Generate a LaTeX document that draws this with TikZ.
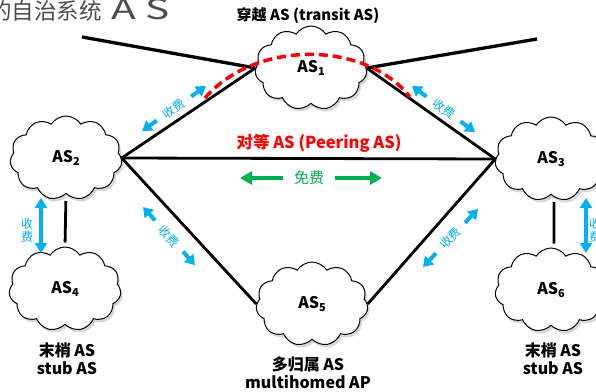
\documentclass[tikz,border=0pt]{standalone}
\usepackage{fontspec}
\setmainfont{Noto Sans CJK SC}
\usetikzlibrary{shapes.symbols,shadows,arrows.meta}
\definecolor{myblue}{HTML}{00B0F0}
\definecolor{mygreen}{HTML}{00B050}
\definecolor{myred}{HTML}{FF0000}
\newcommand\asl[1]{AS\raisebox{-0.35ex}{\fontsize{11}{11}\selectfont #1}}
\begin{document}
\begin{tikzpicture}[x=1pt,y=-1pt,
  ascloud/.style={cloud, cloud puffs=11, cloud puff arc=115, aspect=1.45, draw, line width=1pt,
    fill=white, minimum width=112pt, minimum height=84pt, inner sep=0pt,
    drop shadow={shadow xshift=2pt, shadow yshift=-3pt, fill=black!30},
    font=\bfseries\fontsize{16}{18}\selectfont},
  bline/.style={line width=2.8pt, black},
  rdash/.style={line width=3.5pt, myred, dash pattern=on 9pt off 5pt},
  barrow/.style={myblue, line width=4pt, -{Triangle[length=9.5pt,width=12pt]}},
  bdarrow/.style={myblue, line width=4.5pt, {Triangle[length=10pt,width=12pt]}-{Triangle[length=10pt,width=12pt]}},
  garrow/.style={mygreen, line width=4pt, -{Triangle[length=12pt,width=13pt]}},
  btext/.style={text=myblue, font=\fontsize{12}{13}\selectfont, inner sep=0pt},
  lbl/.style={font=\bfseries\fontsize{16}{18}\selectfont, align=center, inner sep=0pt}
]
\clip (0,0) rectangle (596,391);
\fill[white] (0,0) rectangle (596,391);

% title (cut off)
\node[anchor=base west, inner sep=0pt, font=\fontsize{22.5}{22}\selectfont, text=black!70] (title) at (-11,19) {的自治系统\hspace{0.45em}\scalebox{1.45}[1]{\fontsize{28}{28}\selectfont A\hspace{6pt}S}};

% clouds
\node[ascloud] (as1) at (311,68) {\asl{1}};
\node[ascloud] (as2) at (66,158) {\asl{2}};
\node[ascloud] (as3) at (551,159) {\asl{3}};
\node[ascloud] (as4) at (65,289) {\asl{4}};
\node[ascloud] (as5) at (312,304) {\asl{5}};
\node[ascloud] (as6) at (551,290) {\asl{6}};

% black links
\coordinate (tl) at (82,37);
\coordinate (tr) at (537,39);
\draw[bline, line width=3.3pt] (tl) -- (as1.west);
\draw[bline, line width=3.3pt] (as1.east) -- (tr);
\draw[bline] (as2.east) -- (as1.west);
\draw[bline] (as1.east) -- (as3.west);
\draw[bline] (as2.east) -- (as3.west);
\draw[bline] (as2.east) -- (as5.west);
\draw[bline] (as5.east) -- (as3.west);
\draw[bline, shorten <=7pt, shorten >=4pt] (as2.south) -- (as4.north);
\draw[bline, shorten <=7pt, shorten >=4pt] ([xshift=3pt]as3.south) -- ([xshift=3pt]as6.north);

% red dashed transit arc
\coordinate (r0) at (205,98);
\coordinate (r1) at (410,97);
\draw[rdash] (r0) .. controls (255,40) and (365,40) .. (r1);

% labels
\node[lbl, font=\bfseries\fontsize{15}{16}\selectfont] (transit) at (308,16) {穿越 AS (transit AS)};
\node[lbl, font=\bfseries\fontsize{16.5}{18}\selectfont, text=myred] (peer) at (319,143) {对等 AS (Peering AS)};
\node[inner sep=0pt, text=mygreen, font=\fontsize{15}{16}\selectfont] (free) at (309,178) {免费};
\draw[garrow] ([xshift=-11pt]free.west) -- (240,178);
\draw[garrow] ([xshift=11pt]free.east) -- (382,178);

\node[lbl] (stub1) at (67,359) {末梢 AS\\stub AS};
\node[lbl] (stub2) at (553,359) {末梢 AS\\stub AS};
\node[lbl] (multi) at (308,372.5) {多归属 AS\\multihomed AP};

% blue fee arrows
\node[btext, rotate=35] (f1) at (174,108.5) {收费};
\draw[barrow] (191.2,96.4) -- (205.9,86.1);
\draw[barrow] (156.8,120.6) -- (142.1,130.9);

\node[btext, rotate=-36] (f2) at (444,108.5) {收费};
\draw[barrow] (460.5,121.4) -- (475,132);
\draw[barrow] (426.5,96.6) -- (412,86);

\node[btext, rotate=-48] (f3) at (169,236) {收费};
\draw[barrow] (183,251.6) -- (195,265);
\draw[barrow] (155,220.4) -- (143,207);

\node[btext, rotate=46.5] (f4) at (450.5,238) {收费};
\draw[barrow] (465,222.8) -- (478,209);
\draw[barrow] (436,253.2) -- (423,267);

\coordinate (v1a) at (41,198); \coordinate (v1b) at (41,253);
\draw[bdarrow] (v1a) -- (v1b);
\node[btext, align=center] (f5) at (27,230) {收\\费};
\coordinate (v2a) at (586,198); \coordinate (v2b) at (586,253);
\draw[bdarrow] (v2a) -- (v2b);
\node[btext, align=center] (f6) at (595,230) {收\\费};
\end{tikzpicture}
\end{document}
